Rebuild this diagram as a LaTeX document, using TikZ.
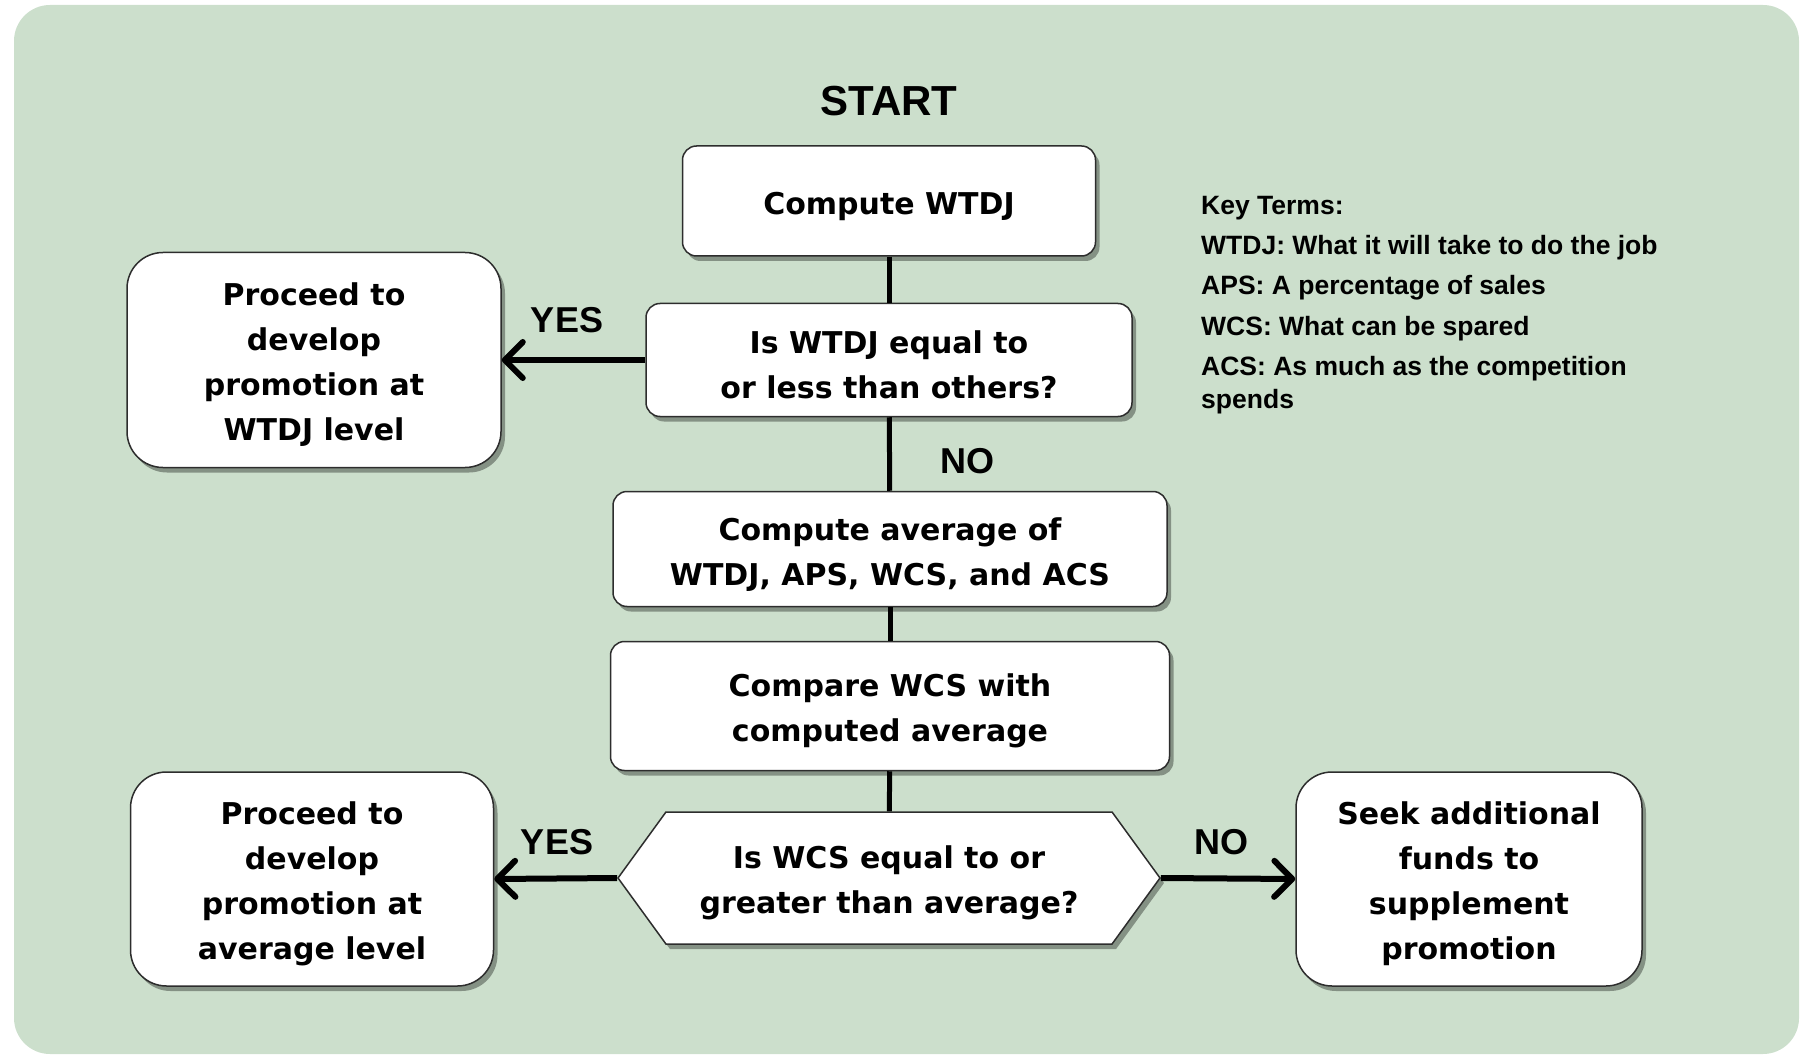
\documentclass[tikz,border=0pt]{standalone}
\usepackage{fontspec}
\setmainfont{Liberation Sans}
\newfontfamily\boxfont{DejaVu Sans}
\usetikzlibrary{positioning,arrows.meta,shapes.symbols,shadows}
\definecolor{sage}{RGB}{204,223,204}
\definecolor{rim}{RGB}{45,45,45}
\newcommand{\lift}{\rule{0pt}{33pt}}
\tikzset{
  stepbox/.style={draw=rim,fill=white,line width=1.5pt,rounded corners=14pt,align=center,inner sep=0pt,
    font=\boxfont\bfseries\fontsize{30}{45}\selectfont,
    drop shadow={shadow xshift=4pt,shadow yshift=-5pt,fill=black,opacity=0.35}},
  endbox/.style={stepbox,rounded corners=36pt},
  askhex/.style={stepbox,shape=signal,signal to=east and west,signal pointer angle=108,rounded corners=0pt},
  flow/.style={line width=5pt},
  yesarr/.style={line width=6pt,-{Straight Barb[round,length=18pt,width=36pt]}},
  yesno/.style={font=\bfseries\fontsize{36}{36}\selectfont},
  keyline/.style={font=\bfseries\fontsize{26.5}{30}\selectfont,anchor=base west,inner sep=0pt},
  every picture/.style={x=1pt,y=-1pt}
}
\begin{document}
\begin{tikzpicture}
  \useasboundingbox (0,0) rectangle (1806,1056);
  \fill[sage,rounded corners=36pt] (14,5) rectangle (1799,1054);
  \node[font=\bfseries\fontsize{42}{42}\selectfont] (start) at (889,101) {START};
  \node[stepbox,minimum width=413pt,minimum height=110pt] (wtdj) at (889,201) {\lift Compute WTDJ};
  \node[stepbox,minimum width=486pt,minimum height=113pt] (ask1) at (889,360) {\lift Is WTDJ equal to\\or less than others?};
  \node[endbox,minimum width=374pt,minimum height=215pt] (lvl1) at (314,360) {\lift Proceed to\\develop\\promotion at\\WTDJ level};
  \node[stepbox,minimum width=554pt,minimum height=115pt] (avg) at (890,549) {\lift Compute average of\\WTDJ, APS, WCS, and ACS};
  \node[stepbox,minimum width=559pt,minimum height=129pt] (cmp) at (890,706) {\lift Compare WCS with\\computed average};
  \node[askhex,minimum width=542pt,minimum height=132pt] (ask2) at (889,878) {\lift Is WCS equal to or\\greater than average?};
  \node[endbox,minimum width=363pt,minimum height=214pt] (lvl2) at (312,879) {\lift Proceed to\\develop\\promotion at\\average level};
  \node[endbox,minimum width=346pt,minimum height=214pt] (seek) at (1469,879) {\lift Seek additional\\funds to\\supplement\\promotion};
  \draw[flow] (wtdj)--(ask1); \draw[flow] (ask1)--(avg);
  \draw[flow] (avg)--(cmp); \draw[flow] (cmp)--(ask2);
  \draw[yesarr] (ask1.west)--(lvl1.east);
  \draw[yesarr] (ask2.west)--(lvl2.east);
  \draw[yesarr] (ask2.east)--(seek.west);
  \node[yesno] (yes1) at (567,320) {YES};
  \node[yesno] (no1) at (967,461) {NO};
  \node[yesno] (yes2) at (557,842) {YES};
  \node[yesno] (no2) at (1221,842) {NO};
  \foreach \t/\yy [count=\k] in {Key Terms:/215,WTDJ: What it will take to do the job/255,APS: A percentage of sales/295,
      WCS: What can be spared/335,ACS: As much as the competition/375,spends/408}
    \node[keyline] (key\k) at (1201,\yy) {\t};
\end{tikzpicture}
\end{document}
